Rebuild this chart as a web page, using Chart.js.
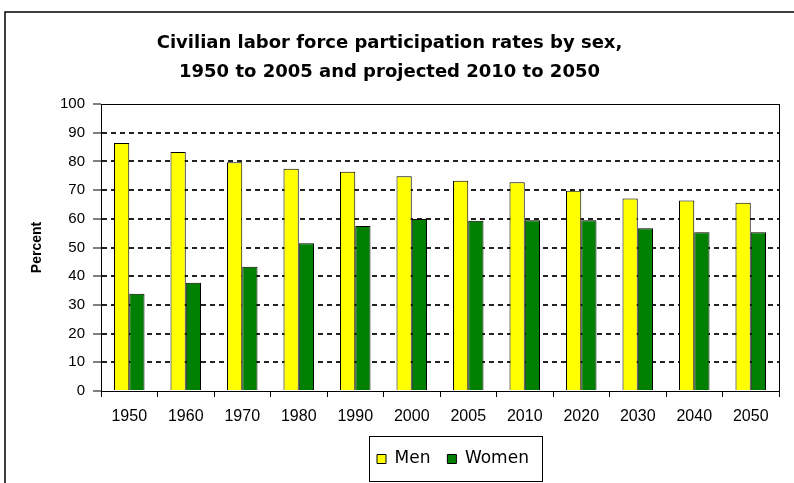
<!DOCTYPE html>
<html><head><meta charset="utf-8">
<script src="https://cdn.jsdelivr.net/npm/chart.js@4/dist/chart.umd.min.js"></script>
<style>html,body{margin:0;padding:0;background:#fff;} canvas{display:block;}</style>
</head><body>
<canvas id="c" width="794" height="483"></canvas>
<script>
const categories = ['1950','1960','1970','1980','1990','2000','2005','2010','2020','2030','2040','2050'];
const menValues = [86.4, 83.3, 79.7, 77.4, 76.4, 74.8, 73.3, 72.7, 69.8, 67.1, 66.4, 65.6];
const womenValues = [33.9, 37.7, 43.3, 51.5, 57.5, 59.9, 59.3, 59.5, 59.5, 56.7, 55.3, 55.3];
const yTickValues = [0, 10, 20, 30, 40, 50, 60, 70, 80, 90, 100];
const titleLines = ['Civilian labor force participation rates by sex,', '1950 to 2005 and projected 2010 to 2050'];
const seriesNames = ['Men', 'Women'];
const yAxisTitle = 'Percent';

const FONT = "'Liberation Sans', Arial, sans-serif";
const WIDE = "'DejaVu Sans', sans-serif";
const LEGEND_FS = 17;

const decor = {
  id: 'decor',
  beforeDraw(chart) {
    const ctx = chart.ctx;
    ctx.save();
    ctx.fillStyle = '#fff';
    ctx.fillRect(0, 0, chart.width, chart.height);
    ctx.strokeStyle = '#000';
    ctx.lineWidth = 1.5;
    ctx.beginPath();
    ctx.moveTo(5, chart.height);
    ctx.lineTo(5, 12);
    ctx.lineTo(chart.width, 12);
    ctx.stroke();
    ctx.restore();
  },
  afterUpdate(chart) {
    const lg = chart.legend;
    if (!lg || !lg.lineWidths) return;
    const pad = lg.options.labels.padding;
    const start = (lg.left + pad + lg.right - lg.lineWidths[0]) / 2;
    const dx = 377 - start;
    lg.left += dx; lg.right += dx;
  },
  afterDraw(chart) {
    const ctx = chart.ctx;
    const a = chart.chartArea;
    ctx.save();
    ctx.strokeStyle = '#000';
    ctx.lineWidth = 1;
    ctx.strokeRect(Math.round(a.left) + 0.5, Math.round(a.top) + 0.5, Math.round(a.right - a.left), Math.round(a.bottom - a.top));
    const lg = chart.legend;
    const pad = lg.options.labels.padding;
    const x0 = (lg.left + pad + lg.right - lg.lineWidths[0]) / 2;
    const x1 = x0 + lg.lineWidths[0] - pad;
    const cy = lg.top + pad + LEGEND_FS / 2;
    ctx.strokeRect(Math.round(x0 - 8) + 0.5, Math.round(cy - 23) + 0.5, Math.round(x1 - x0 + 21), 45);
    ctx.restore();
  }
};

new Chart(document.getElementById('c'), {
  type: 'bar',
  data: {
    labels: categories,
    datasets: [
      { label: seriesNames[0], data: menValues, backgroundColor: '#FFFF00', borderColor: '#000', borderWidth: 1 },
      { label: seriesNames[1], data: womenValues, backgroundColor: '#008000', borderColor: '#000', borderWidth: 1 }
    ]
  },
  options: {
    responsive: false,
    animation: false,
    devicePixelRatio: 1,
    layout: { padding: { left: 0, right: 15, top: 0, bottom: 5.5 } },
    datasets: { bar: { categoryPercentage: 0.54, barPercentage: 1.0 } },
    plugins: {
      title: {
        display: true,
        text: titleLines,
        color: '#000',
        font: { family: WIDE, size: 18, weight: 'bold', lineHeight: 29 / 18 },
        padding: { top: 28.5, bottom: 17.5 }
      },
      legend: {
        position: 'bottom',
        labels: {
          color: '#000',
          font: { family: WIDE, size: LEGEND_FS },
          boxWidth: 9,
          boxHeight: 9,
          padding: 17
        }
      },
      tooltip: { enabled: false }
    },
    scales: {
      x: {
        grid: { drawOnChartArea: false, drawTicks: true, tickLength: 6, tickColor: '#000', tickWidth: 1, offset: true },
        border: { display: true, color: '#000', width: 1 },
        ticks: { color: '#000', font: { family: FONT, size: 16 }, padding: 10, maxRotation: 0, autoSkip: false },
        afterFit(scale) { scale.height = 42.5; }
      },
      y: {
        min: 0, max: 100,
        afterBuildTicks(scale) { scale.ticks = yTickValues.map(v => ({ value: v })); },
        grid: {
          color: (c) => (c.tick && (c.tick.value === 0 || c.tick.value === 100)) ? 'rgba(0,0,0,0)' : '#222',
          lineWidth: 2,
          drawTicks: true,
          tickLength: 8,
          tickColor: '#000',
          tickWidth: 1
        },
        border: { display: true, color: '#000', width: 1, dash: [5, 4] },
        ticks: { color: '#000', font: { family: FONT, size: 15 }, padding: 8 },
        title: { display: true, text: yAxisTitle, color: '#000', font: { family: FONT, size: 14, weight: 'bold' }, padding: { top: 29, bottom: 0 } },
        afterFit(scale) { scale.width = 101; }
      }
    }
  },
  plugins: [decor]
});
</script>
</body></html>
